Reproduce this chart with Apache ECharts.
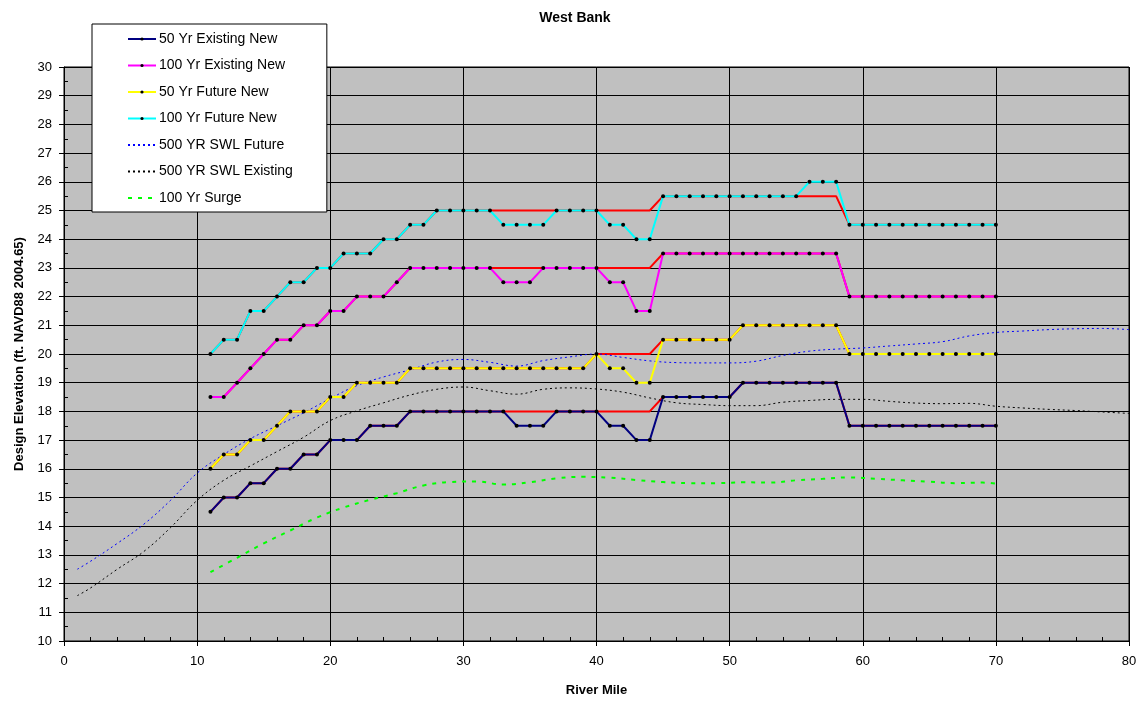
<!DOCTYPE html>
<html><head><meta charset="utf-8">
<script src="https://cdn.jsdelivr.net/npm/echarts@6/dist/echarts.min.js"></script>
<style>html,body{margin:0;padding:0;background:#fff}#c{width:1140px;height:702px}</style>
</head><body><div id="c"></div>
<script>
// ---- Data ----
const chartTitle = "West Bank";
const xAxisName = "River Mile";
const yAxisName = "Design Elevation (ft. NAVD88 2004.65)";
const xTicks = [0, 10, 20, 30, 40, 50, 60, 70, 80];
const yTicks = [10, 11, 12, 13, 14, 15, 16, 17, 18, 19, 20, 21, 22, 23, 24, 25, 26, 27, 28, 29, 30];

const miles = [11,12,13,14,15,16,17,18,19,20,21,22,23,24,25,26,27,28,29,30,
               31,32,33,34,35,36,37,38,39,40,41,42,43,44,45,46,47,48,49,50,
               51,52,53,54,55,56,57,58,59,60,61,62,63,64,65,66,67,68,69,70];

const existing50New = [14.5,15,15,15.5,15.5,16,16,16.5,16.5,17,17,17,17.5,17.5,17.5,18,18,18,18,18,
                       18,18,18,17.5,17.5,17.5,18,18,18,18,17.5,17.5,17,17,18.5,18.5,18.5,18.5,18.5,18.5,
                       19,19,19,19,19,19,19,19,17.5,17.5,17.5,17.5,17.5,17.5,17.5,17.5,17.5,17.5,17.5,17.5];
const existing100New = [18.5,18.5,19,19.5,20,20.5,20.5,21,21,21.5,21.5,22,22,22,22.5,23,23,23,23,23,
                        23,23,22.5,22.5,22.5,23,23,23,23,23,22.5,22.5,21.5,21.5,23.5,23.5,23.5,23.5,23.5,23.5,
                        23.5,23.5,23.5,23.5,23.5,23.5,23.5,23.5,22,22,22,22,22,22,22,22,22,22,22,22];
const future50New = [16,16.5,16.5,17,17,17.5,18,18,18,18.5,18.5,19,19,19,19,19.5,19.5,19.5,19.5,19.5,
                     19.5,19.5,19.5,19.5,19.5,19.5,19.5,19.5,19.5,20,19.5,19.5,19,19,20.5,20.5,20.5,20.5,20.5,20.5,
                     21,21,21,21,21,21,21,21,20,20,20,20,20,20,20,20,20,20,20,20];
const future100New = [20,20.5,20.5,21.5,21.5,22,22.5,22.5,23,23,23.5,23.5,23.5,24,24,24.5,24.5,25,25,25,
                      25,25,24.5,24.5,24.5,24.5,25,25,25,25,24.5,24.5,24,24,25.5,25.5,25.5,25.5,25.5,25.5,
                      25.5,25.5,25.5,25.5,25.5,26,26,26,24.5,24.5,24.5,24.5,24.5,24.5,24.5,24.5,24.5,24.5,24.5,24.5];

// previous design profiles (red, drawn underneath, not in legend)
const existing50Old = [14.5,15,15,15.5,15.5,16,16,16.5,16.5,17,17,17,17.5,17.5,17.5,18,18,18,18,18,
                       18,18,18,18,18,18,18,18,18,18,18,18,18,18,18.5,18.5,18.5,18.5,18.5,18.5,
                       19,19,19,19,19,19,19,19,17.5,17.5,17.5,17.5,17.5,17.5,17.5,17.5,17.5,17.5,17.5,17.5];
const existing100Old = [18.5,18.5,19,19.5,20,20.5,20.5,21,21,21.5,21.5,22,22,22,22.5,23,23,23,23,23,
                        23,23,23,23,23,23,23,23,23,23,23,23,23,23,23.5,23.5,23.5,23.5,23.5,23.5,
                        23.5,23.5,23.5,23.5,23.5,23.5,23.5,23.5,22,22,22,22,22,22,22,22,22,22,22,22];
const future50Old = [16,16.5,16.5,17,17,17.5,18,18,18,18.5,18.5,19,19,19,19,19.5,19.5,19.5,19.5,19.5,
                     19.5,19.5,19.5,19.5,19.5,19.5,19.5,19.5,19.5,20,20,20,20,20,20.5,20.5,20.5,20.5,20.5,20.5,
                     21,21,21,21,21,21,21,21,20,20,20,20,20,20,20,20,20,20,20,20];
const future100Old = [20,20.5,20.5,21.5,21.5,22,22.5,22.5,23,23,23.5,23.5,23.5,24,24,24.5,24.5,25,25,25,
                      25,25,25,25,25,25,25,25,25,25,25,25,25,25,25.5,25.5,25.5,25.5,25.5,25.5,
                      25.5,25.5,25.5,25.5,25.5,25.5,25.5,25.5,24.5,24.5,24.5,24.5,24.5,24.5,24.5,24.5,24.5,24.5,24.5,24.5];

const swlMiles = [1,2,4,6,8,10,12,14,16,18,20,22,24,26,28,30,32,34,36,38,40,
                  42,44,46,48,50,52,54,56,58,60,62,64,66,68,70,72,74,76,78,80];
const swlFuture500 = [12.5,12.78,13.4,14.07,14.9,15.85,16.5,17.05,17.5,17.95,18.45,18.9,19.2,19.45,19.72,19.81,19.71,19.58,19.77,19.9,20.0,
                      19.88,19.76,19.7,19.69,19.69,19.75,19.95,20.1,20.17,20.21,20.28,20.35,20.43,20.63,20.75,20.8,20.85,20.88,20.89,20.85];
const swlExisting500 = [11.58,11.85,12.5,13.12,13.95,14.9,15.6,16.1,16.6,17.1,17.68,18.02,18.3,18.57,18.77,18.85,18.72,18.6,18.77,18.82,18.78,
                        18.67,18.47,18.3,18.24,18.2,18.2,18.32,18.38,18.42,18.42,18.35,18.29,18.27,18.28,18.18,18.12,18.07,18.03,17.98,17.93];

const surgeMiles = [11,13,15,17,19,21,23,25,27,29,31,33,35,37,39,41,43,45,47,49,51,53,55,57,59,61,63,65,67,69,70];
const surge100 = [12.4,12.9,13.4,13.85,14.3,14.65,14.92,15.15,15.42,15.54,15.56,15.45,15.53,15.67,15.72,15.69,15.61,15.54,15.5,15.5,
                  15.53,15.52,15.6,15.65,15.7,15.65,15.6,15.55,15.5,15.52,15.48];

const legendNames = ['50 Yr Existing New', '100 Yr Existing New', '50 Yr Future New', '100 Yr Future New',
                     '500 YR SWL Future', '500 YR SWL Existing', '100 Yr Surge'];

// ---- Build ----
const pair = (xs, ys) => xs.map((x, i) => [x, ys[i]]);
const FONT = "Liberation Sans, Arial, sans-serif";

function stepSeries(name, color, vals) {
  return {
    name, type: 'line', data: pair(miles, vals),
    symbol: 'circle', symbolSize: 4, showSymbol: true,
    itemStyle: { color: '#000' },
    lineStyle: { color: color, width: 2 },
    emphasis: { disabled: true }, animation: false, z: 5
  };
}
function oldSeries(vals) {
  return {
    name: 'old', type: 'line', data: pair(miles, vals),
    symbol: 'none', lineStyle: { color: '#FF0000', width: 2 },
    itemStyle: { color: '#FF0000' },
    emphasis: { disabled: true }, animation: false, z: 3
  };
}
function curveSeries(name, color, xs, ys, width, dash) {
  return {
    name, type: 'line', data: pair(xs, ys), smooth: 0.4,
    symbol: 'none', showSymbol: false,
    itemStyle: { color: color },
    lineStyle: { color: color, width: width, type: dash },
    emphasis: { disabled: true }, animation: false, z: 4
  };
}

const option = {
  backgroundColor: '#fff',
  animation: false,
  textStyle: { fontFamily: FONT },
  title: {
    text: chartTitle, left: 570, top: 6, textAlign: 'center',
    textStyle: { fontFamily: FONT, fontSize: 14, fontWeight: 'bold', color: '#000' }
  },
  grid: {
    left: 64, right: 11, top: 67, bottom: 60,
    show: true, backgroundColor: '#C0C0C0', borderColor: '#000', borderWidth: 1,
    containLabel: false
  },
  legend: {
    orient: 'vertical', left: 92, top: 24,
    data: legendNames.map((n, i) => i < 4 ? { name: n } : { name: n, itemStyle: { opacity: 0 } }),
    backgroundColor: '#fff', borderColor: '#000', borderWidth: 1,
    padding: [8, 34, 7, 35], itemGap: 12.5, itemWidth: 28, itemHeight: 4,
    textStyle: { fontFamily: FONT, fontSize: 14, color: '#000', padding: [0, 0, 0, -2] },
    selectedMode: false
  },
  xAxis: [{
    type: 'value', min: xTicks[0], max: xTicks[xTicks.length - 1], interval: 10,
    name: xAxisName, nameLocation: 'middle', nameGap: 43,
    nameTextStyle: { fontFamily: FONT, fontSize: 13, fontWeight: 'bold', color: '#000' },
    axisLine: { show: true, lineStyle: { color: '#000', width: 1 } },
    axisTick: { show: true, length: 5, lineStyle: { color: '#000' } },
    axisLabel: { fontFamily: FONT, fontSize: 13, color: '#000', margin: 14 },
    splitLine: { show: true, lineStyle: { color: '#000', width: 1 } }
  }, {
    type: 'value', min: xTicks[0], max: xTicks[xTicks.length - 1], interval: 10,
    position: 'bottom', offset: 0,
    axisLine: { show: false }, axisLabel: { show: false }, splitLine: { show: false },
    axisTick: { show: false, inside: true },
    minorTick: { show: true, splitNumber: 5, length: 4, lineStyle: { color: '#000' } }
  }],
  yAxis: [{
    type: 'value', min: yTicks[0], max: yTicks[yTicks.length - 1], interval: 1,
    name: yAxisName, nameLocation: 'middle', nameGap: 38, nameRotate: 90,
    nameTextStyle: { fontFamily: FONT, fontSize: 13, fontWeight: 'bold', color: '#000' },
    axisLine: { show: true, lineStyle: { color: '#000', width: 1 } },
    axisTick: { show: true, length: 5, lineStyle: { color: '#000' } },
    axisLabel: { fontFamily: FONT, fontSize: 13, color: '#000', margin: 12 },
    splitLine: { show: true, lineStyle: { color: '#000', width: 1 } }
  }, {
    type: 'value', min: yTicks[0], max: yTicks[yTicks.length - 1], interval: 1,
    position: 'left', offset: 0,
    axisLine: { show: false }, axisLabel: { show: false }, splitLine: { show: false },
    axisTick: { show: false, inside: true },
    minorTick: { show: true, splitNumber: 2, length: 4, lineStyle: { color: '#000' } }
  }],
  series: [
    curveSeries('500 YR SWL Future', '#0000FF', swlMiles, swlFuture500, 1, [2, 3]),
    curveSeries('500 YR SWL Existing', '#000000', swlMiles, swlExisting500, 1, [2, 3]),
    curveSeries('100 Yr Surge', '#00FF00', surgeMiles, surge100, 2, [4, 6]),
    oldSeries(existing50Old),
    oldSeries(existing100Old),
    oldSeries(future50Old),
    oldSeries(future100Old),
    stepSeries('50 Yr Existing New', '#000080', existing50New),
    stepSeries('100 Yr Existing New', '#FF00FF', existing100New),
    stepSeries('50 Yr Future New', '#FFFF00', future50New),
    stepSeries('100 Yr Future New', '#00FFFF', future100New)
  ]
};
const chart = echarts.init(document.getElementById('c'), null, { renderer: 'canvas' });
chart.setOption(option);
</script>
</body></html>
